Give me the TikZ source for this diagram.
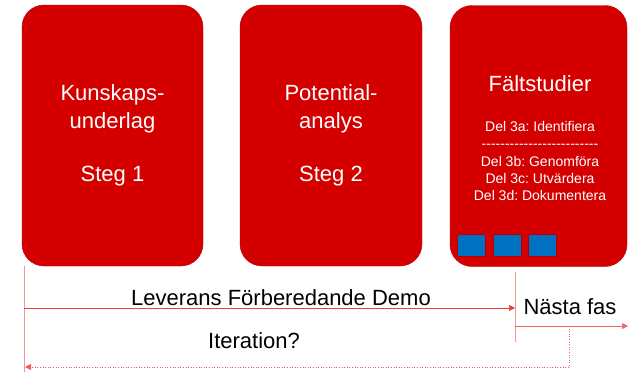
\documentclass[tikz,border=0pt]{standalone}
\usepackage{fontspec}
\setmainfont{Liberation Sans}
\usetikzlibrary{arrows.meta, positioning}

\definecolor{stegred}{RGB}{212,0,0}
\definecolor{stegedge}{RGB}{185,0,0}
\definecolor{flowred}{RGB}{232,64,64}
\definecolor{palered}{RGB}{242,150,150}
\definecolor{markblue}{RGB}{0,112,192}

\newcommand{\dashrow}{\foreach \k in {1,...,25}{-\kern0pt}}

\begin{document}
\frenchspacing
\begin{tikzpicture}[x=1pt,y=-1pt,align=center]
\tikzstyle{steg}=[rectangle,rounded corners=22pt,fill=stegred,draw=stegedge,
  text=white,minimum height=261pt,inner sep=0pt,font=\fontsize{22}{28}\selectfont]
\tikzstyle{markbox}=[rectangle,fill=markblue,draw=stegedge,minimum width=28pt,minimum height=22pt,inner sep=0pt]
\tikzstyle{flow}=[draw=flowred,semithick,-{Triangle[length=6pt,width=6pt]}]
\tikzstyle{plainline}=[draw=palered,semithick]
\tikzstyle{flowlabel}=[font=\fontsize{22}{26}\selectfont,inner sep=0pt]

\useasboundingbox (0,0) rectangle (628,372);

\node[steg,minimum width=181pt] (s1) at (112.5,135.5) {Kunskaps-\\underlag\\[25pt]Steg 1};
\node[steg,minimum width=182pt] (s2) at (331,135.5) {Potential-\\analys\\[25pt]Steg 2};
\node[steg,minimum width=177pt] (s3) at (538.5,136) {};

\node[text=white,font=\fontsize{22}{26}\selectfont] (s3_title) at (540,84) {F\"altstudier};
\node[text=white,font=\fontsize{14}{17.2}\selectfont,inner sep=0pt] (s3_parts) at (540,161)
  {Del 3a: Identifiera\\\dashrow\\Del 3b: Genomf\"ora\\Del 3c: Utv\"ardera\\Del 3d: Dokumentera};

\node[markbox] (m1) at (471,245) {};
\node[markbox] (m2) [right = 8pt of m1] {};
\node[markbox] (m3) [right = 6pt of m2] {};

% connectors
\coordinate (left_top) at (24,266);
\coordinate (left_end) at (24,372);
\coordinate (deliv_start) at (24,308);
\coordinate (gate_top) at (515,272);
\coordinate (gate_bot) at (515,342);
\coordinate (deliv_end) at (515,308);
\coordinate (next_end) at (628,326);
\coordinate (next_start) at (515,326);
\coordinate (iter_top) at (569,326);
\coordinate (iter_corner) at (569,367);
\coordinate (iter_end) at (25,367);

\draw[plainline] (left_top) -- (left_end);
\draw[plainline] (gate_top) -- (gate_bot);
\draw[flow] (deliv_start) -- (deliv_end);
\draw[flow,draw=flowred!80] (next_start) -- (next_end);
\draw[flow,dotted,draw=flowred!85] (iter_top) -- (iter_corner) -- (iter_end);

\node[flowlabel] (deliv) at (281,298) {Leverans F\"orberedande Demo};
\node[flowlabel] (next) at (570,307) {N\"asta fas};
\node[flowlabel] (iter) at (254,341) {Iteration?};
\end{tikzpicture}
\end{document}
